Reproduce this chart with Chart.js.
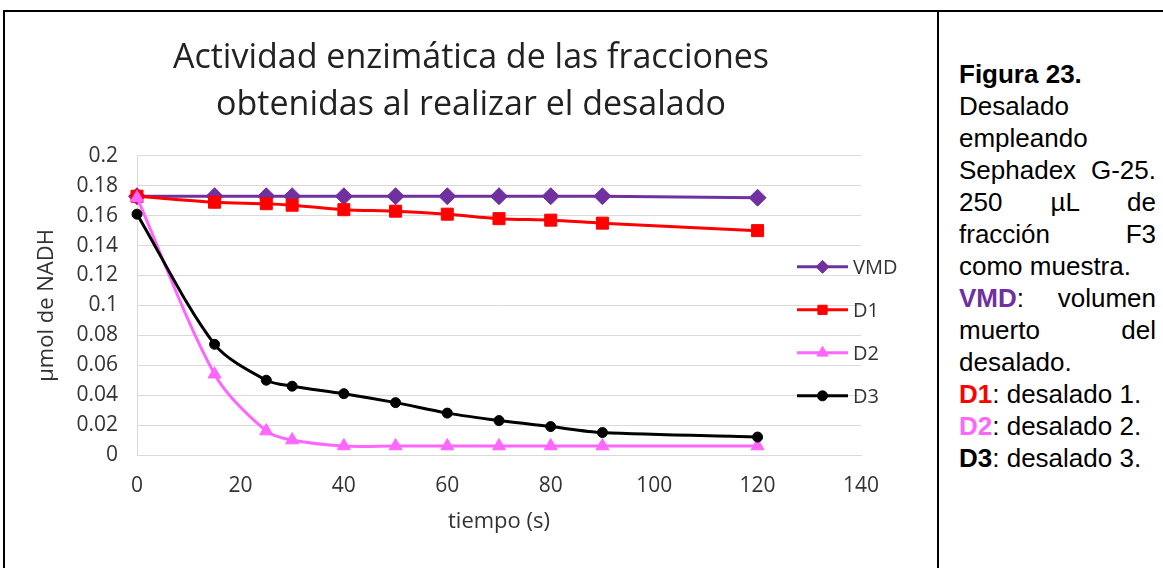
<!DOCTYPE html>
<html>
<head>
<meta charset="utf-8">
<script src="https://cdn.jsdelivr.net/npm/chart.js@4/dist/chart.umd.min.js"></script>
<style>
    html, body { margin: 0; padding: 0; background: #fff; overflow: hidden; }
    body { width: 1163px; height: 568px; position: relative; }
    #frame { position: absolute; left: 3px; top: 10px; width: 1300px; height: 700px; border-top: 2px solid #000; border-left: 2px solid #000; }
    #divider { position: absolute; left: 937px; top: 10px; width: 2px; height: 700px; background: #000; }
    #chartBox { position: absolute; left: 5px; top: 12px; width: 932px; height: 556px; }
    #caption { position: absolute; left: 959px; top: 58px; width: 197px; font-family: "Liberation Sans", Arial, sans-serif; font-size: 26px; line-height: 32px; text-align: justify; color: #000; }
    #caption b { font-weight: bold; }
</style>
</head>
<body>
<div id="frame"></div>
<div id="divider"></div>
<div id="chartBox"><canvas id="desaladoChart"></canvas></div>
<div id="caption">
    <b>Figura 23.</b><br>
    Desalado empleando Sephadex G-25. 250 µL de fracción F3 como muestra.<br>
    <b style="color:#7030a0">VMD</b>: volumen muerto del desalado.<br>
    <b style="color:#ff0000">D1</b>: desalado 1.<br>
    <b style="color:#ff66ff">D2</b>: desalado 2.<br>
    <b>D3</b>: desalado 3.
</div>
<script>
// tiempo (s)
const tiempos = [0, 15, 25, 30, 40, 50, 60, 70, 80, 90, 120];
// µmol de NADH
const vmd = [0.173, 0.173, 0.173, 0.173, 0.173, 0.173, 0.173, 0.173, 0.173, 0.173, 0.172];
const d1  = [0.173, 0.169, 0.168, 0.167, 0.164, 0.163, 0.161, 0.158, 0.157, 0.155, 0.150];
const d2  = [0.172, 0.054, 0.016, 0.010, 0.006, 0.006, 0.006, 0.006, 0.006, 0.006, 0.006];
const d3  = [0.161, 0.074, 0.050, 0.046, 0.041, 0.035, 0.028, 0.023, 0.019, 0.015, 0.012];
const xTicks = [0, 20, 40, 60, 80, 100, 120, 140];
const yTicks = [0, 0.02, 0.04, 0.06, 0.08, 0.1, 0.12, 0.14, 0.16, 0.18, 0.2];
const yTickLabels = ['0', '0.02', '0.04', '0.06', '0.08', '0.1', '0.12', '0.14', '0.16', '0.18', '0.2'];

const FONT = '"Open Sans", "Liberation Sans", sans-serif';

function toPoints(values) {
    return values.map((v, i) => ({ x: tiempos[i], y: v }));
}

function serie(label, values, color, pointStyle, radius, order) {
    return {
        label,
        data: toPoints(values),
        borderColor: color,
        backgroundColor: color,
        borderWidth: 3,
        pointStyle,
        pointRadius: radius,
        pointHoverRadius: radius,
        pointBorderWidth: 1,
        pointBackgroundColor: color,
        pointBorderColor: color,
        tension: 0.3,
        clip: false,
        order
    };
}

// leyenda dibujada encima del área del gráfico (como en Excel)
const overlayLegend = {
    id: 'overlayLegend',
    afterDraw(chart) {
        const { ctx, chartArea } = chart;
        const sizes = [6.5, 6.5, 6.5, 5];
        ctx.save();
        chart.data.datasets.forEach((ds, i) => {
            const x0 = chartArea.right - 64;
            const y = chartArea.top + 111 + i * 43;
            ctx.strokeStyle = ds.borderColor;
            ctx.lineWidth = 3;
            ctx.beginPath();
            ctx.moveTo(x0, y);
            ctx.lineTo(x0 + 51, y);
            ctx.stroke();
            ctx.fillStyle = ds.borderColor;
            ctx.lineWidth = 1;
            Chart.helpers.drawPoint(ctx, { pointStyle: ds.pointStyle, radius: sizes[i], rotation: 0, borderWidth: 1 }, x0 + 25.5, y);
            ctx.fillStyle = '#333';
            ctx.font = '20px ' + FONT;
            ctx.textAlign = 'left';
            ctx.textBaseline = 'middle';
            ctx.fillText(ds.label, x0 + 56, y + 1);
        });
        ctx.restore();
    }
};

new Chart(document.getElementById('desaladoChart'), {
    type: 'line',
    data: {
        datasets: [
            serie('VMD', vmd, '#7030a0', 'rectRot', 8.5, 4),
            serie('D1', d1, '#ff0000', 'rect', 8.5, 3),
            serie('D2', d2, '#ff66ff', 'triangle', 7.5, 2),
            serie('D3', d3, '#000000', 'circle', 5, 1)
        ]
    },
    options: {
        responsive: true,
        maintainAspectRatio: false,
        animation: false,
        layout: { padding: { left: 0, right: 0, top: 0, bottom: 33 } },
        plugins: {
            legend: { display: false },
            tooltip: { enabled: false },
            title: {
                display: true,
                text: ['Actividad enzimática de las fracciones', 'obtenidas al realizar el desalado'],
                color: '#222',
                font: { family: FONT, size: 34, weight: 'normal', lineHeight: 1.38 },
                padding: { top: 23, bottom: 27 }
            }
        },
        scales: {
            x: {
                type: 'linear',
                min: 0,
                max: 140,
                afterBuildTicks: axis => { axis.ticks = xTicks.map(v => ({ value: v })); },
                grid: { display: false, drawTicks: false },
                border: { display: true, color: '#d9d9d9', width: 1 },
                ticks: { color: '#333', font: { family: FONT, size: 21 }, padding: 18, maxRotation: 0 },
                title: { display: true, text: 'tiempo (s)', color: '#333', font: { family: FONT, size: 22 }, padding: { top: 10, bottom: 0 } },
                afterFit: axis => { axis.height = 80; }
            },
            y: {
                min: 0,
                max: 0.2,
                afterBuildTicks: axis => { axis.ticks = yTicks.map(v => ({ value: v })); },
                ticks: {
                    autoSkip: false,
                    color: '#333',
                    font: { family: FONT, size: 21 },
                    padding: 19,
                    callback: (v, i) => yTickLabels[i]
                },
                grid: { color: '#d9d9d9', lineWidth: 1, drawTicks: false },
                border: { display: true, color: '#d9d9d9', width: 1 },
                title: { display: true, text: 'µmol de NADH', color: '#333', font: { family: FONT, size: 22 }, padding: { top: 29, bottom: 0 } },
                afterFit: axis => { axis.width = 132; }
            },
            // eje vacío a la derecha: deja sitio a la leyenda y mantiene el título centrado
            margen: {
                position: 'right',
                display: true,
                grid: { display: false, drawTicks: false },
                border: { display: false },
                ticks: { display: false },
                afterFit: axis => { axis.width = 76; }
            }
        }
    },
    plugins: [overlayLegend]
});
</script>
</body>
</html>
